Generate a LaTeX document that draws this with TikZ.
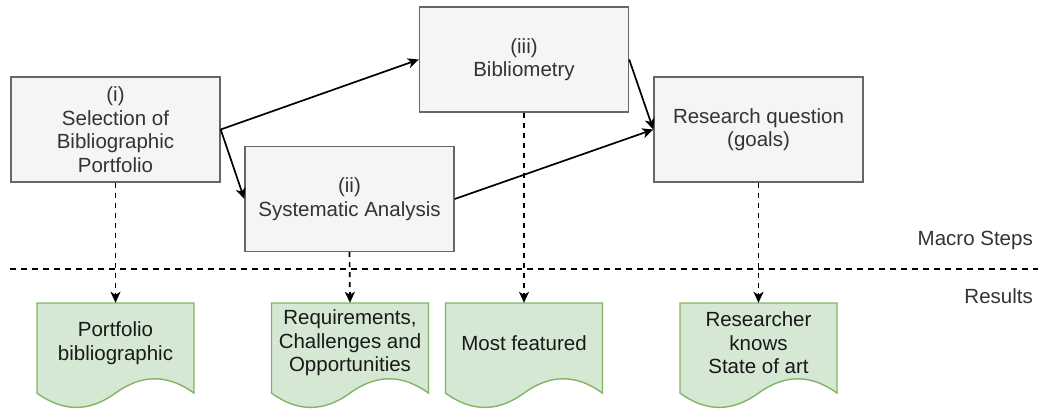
\documentclass[tikz,border=0pt]{standalone}
\usepackage{fontspec}
\setmainfont{Liberation Sans}
\usetikzlibrary{arrows.meta}
\definecolor{boxfill}{HTML}{F5F5F5}
\definecolor{boxdraw}{HTML}{666666}
\definecolor{boxtext}{HTML}{333333}
\definecolor{docfill}{HTML}{D5E8D4}
\definecolor{docdraw}{HTML}{82B366}
\begin{document}
\begin{tikzpicture}
[every node/.style={inner sep=0pt, font=\fontsize{20.5}{23.5}\selectfont},
 stepbox/.style={rectangle, minimum width=209pt, minimum height=105pt, fill=boxfill, draw=boxdraw, line width=1.4pt, text=boxtext, align=center},
 resultdoc/.style={rectangle, minimum width=157pt, minimum height=80pt, align=center, text=black!90},
 docline/.style={fill=docfill, draw=docdraw, line width=1.4pt},
 flow/.style={line width=1.7pt, -{Stealth[length=11pt, width=10pt, inset=3pt]}, color=black},
 yields/.style={line width=1.7pt, dash pattern=on 5pt off 5pt, -{Stealth[length=11pt, width=10pt, inset=3pt]}, color=black},
 sepline/.style={line width=1.7pt, dash pattern=on 5.5pt off 5.5pt, color=black}]
\useasboundingbox (0pt, 0pt) rectangle (1041pt, -409pt);
\node (sel) [stepbox] at (115.5pt, -129.5pt) {(i)\\Selection of\\Bibliographic\\Portfolio};
\node (sys) [stepbox] at (349.5pt, -199.0pt) {(ii)\\Systematic Analysis};
\node (bib) [stepbox] at (524.0pt, -59.5pt) {(iii)\\Bibliometry};
\node (rq) [stepbox] at (758.5pt, -129.5pt) {Research question\\(goals)};
\draw [flow] (sel.east) to (bib.west);
\draw [flow] (sel.east) to (sys.west);
\draw [flow] (bib.east) to (rq.west);
\draw [flow] (sys.east) to (rq.west);
\coordinate (sepL) at (10pt, -269pt);
\coordinate (sepR) at (1038pt, -269pt);
\draw [sepline] (sepL) to (sepR);
\node (macro) [anchor=east, text=boxtext] at (1033pt, -240pt) {Macro Steps};
\node (res) [anchor=east, text=boxtext] at (1033pt, -296pt) {Results};
\foreach \n/\x/\t in {port/37/{Portfolio\\bibliographic}, req/271.5/{Requirements,\\Challenges and\\Opportunities}, most/445.5/{Most featured}, know/680/{Researcher\\knows\\State of art}} {
  \draw [docline, shift={(\x pt, -303pt)}] (0pt, 0pt) -- (157pt, 0pt) -- (157pt, -90.1pt)
    .. controls (130.83pt, -71.02pt) and (104.67pt, -71.02pt) .. (78.5pt, -90.1pt)
    .. controls (52.33pt, -109.18pt) and (26.17pt, -109.18pt) .. (0pt, -90.1pt) -- cycle;
  \node (\n) [resultdoc] at (\x pt + 78.5pt, -343pt) {\t};
}
\draw [yields] (sel.south) to (port.north);
\draw [yields] (sys.south) to (req.north);
\draw [yields] (bib.south) to (most.north);
\draw [yields] (rq.south) to (know.north);
\end{tikzpicture}
\end{document}
